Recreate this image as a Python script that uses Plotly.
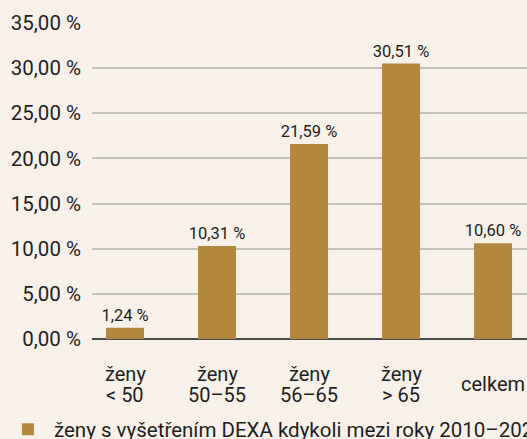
import plotly.graph_objects as go

# Data
categories = ["ženy < 50", "ženy 50–55", "ženy 56–65", "ženy > 65", "celkem"]
category_lines = [["ženy", "< 50"], ["ženy", "50–55"], ["ženy", "56–65"], ["ženy", "> 65"], ["celkem"]]
values = [1.24, 10.31, 21.59, 30.51, 10.60]
series_name = "ženy s vyšetřením DEXA kdykoli mezi roky 2010–2020"
y_ticks = [0, 5, 10, 15, 20, 25, 30, 35]


def pct(v):
    return f"{v:.2f}".replace(".", ",") + " %"


BG = "#f7f1ea"
BAR = "#b3873e"
TEXT = "#1e1e1e"
FONT = "Roboto, 'Noto Sans', sans-serif"

fig = go.Figure()
fig.add_trace(go.Bar(
    x=categories,
    y=values,
    name=series_name,
    marker=dict(color=BAR, line=dict(width=0)),
    width=0.413,
    text=[pct(v) for v in values],
    texttemplate="%{text}",
    textposition="outside",
    constraintext="none",
    textfont=dict(size=16.5, color=TEXT, family=FONT),
    cliponaxis=False,
    showlegend=True,
))

# Two-line category labels under the axis
annotations = []
for cat, lines in zip(categories, category_lines):
    if len(lines) == 2:
        shifts = [-34.5, -55.5]
    else:
        shifts = [-44.5]
    for line, shift in zip(lines, shifts):
        annotations.append(dict(
            x=cat, xref="x", y=0, yref="paper",
            text=line, showarrow=False,
            yanchor="middle", xanchor="center", yshift=shift,
            font=dict(size=20, color=TEXT, family=FONT),
        ))

fig.update_layout(
    width=527,
    height=439,
    margin=dict(l=92, r=0, t=23, b=100, autoexpand=False),
    paper_bgcolor=BG,
    plot_bgcolor=BG,
    font=dict(family=FONT, color=TEXT, size=20),
    annotations=annotations,
    legend=dict(
        orientation="h",
        x=-0.207, xanchor="left",
        y=-0.286, yanchor="middle",
        itemwidth=42,
        font=dict(size=20.5, color=TEXT, family=FONT),
        bgcolor="rgba(0,0,0,0)",
    ),
    xaxis=dict(
        type="category",
        range=[-0.359, 4.369],
        showticklabels=False,
        showgrid=False,
        zeroline=False,
        showline=False,
        ticks="",
    ),
    yaxis=dict(
        range=[0, 35],
        tickmode="array",
        tickvals=y_ticks,
        ticktext=[pct(t) for t in y_ticks],
        tickfont=dict(size=20.5, color=TEXT, family=FONT),
        showgrid=True,
        gridcolor="#c4c0ba",
        gridwidth=1.5,
        zeroline=True,
        zerolinecolor="#4a4a4a",
        zerolinewidth=1.5,
        showline=False,
        ticks="",
        ticklabelstandoff=10,
    ),
)

fig.write_html("out.html")
